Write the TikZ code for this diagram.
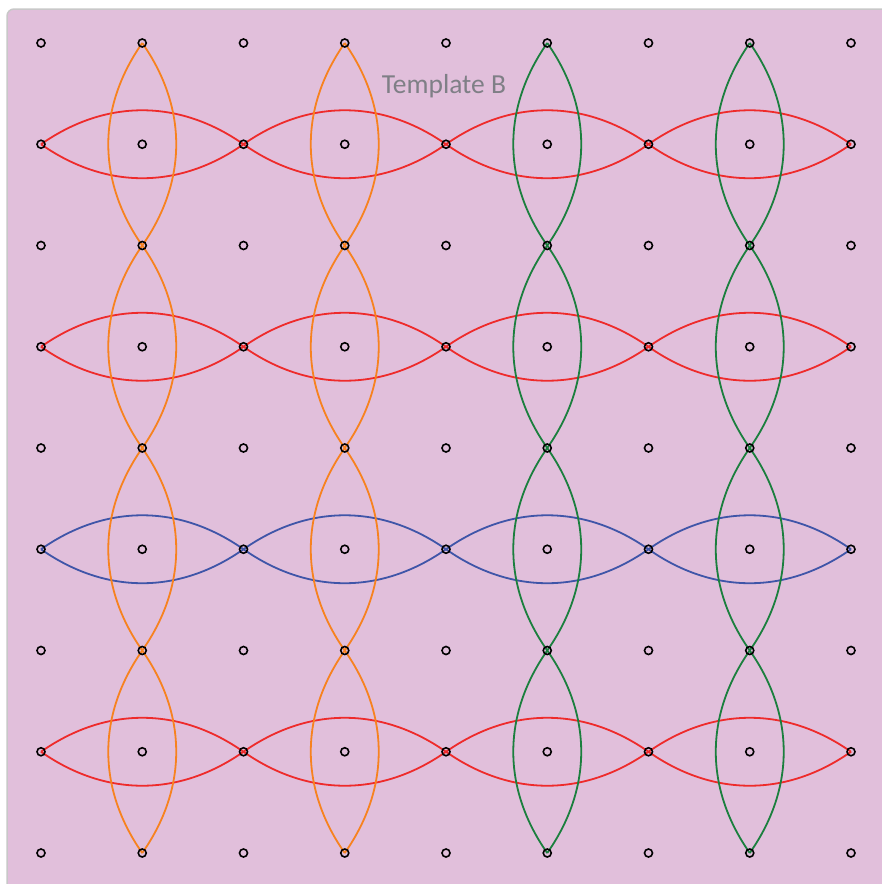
\documentclass[tikz,border=0pt]{standalone}
\usepackage{fontspec}
\setmainfont{Carlito}
\definecolor{bgpink}{HTML}{E1BFDB}
\definecolor{bordergray}{HTML}{C8C8C8}
\definecolor{lensred}{HTML}{EE2B2B}
\definecolor{lensorange}{HTML}{F7821F}
\definecolor{lensgreen}{HTML}{1B7F3E}
\definecolor{lensblue}{HTML}{3F55A8}
\definecolor{titlegray}{HTML}{7F7F86}
\tikzset{
  lens/.style={line width=1.8pt},
  dotmark/.style={draw=black,line width=1.6pt,fill=none},
}
\begin{document}
\begin{tikzpicture}[x=1pt,y=-1pt]
\useasboundingbox (0,0) rectangle (882,884);
\fill[bgpink,draw=bordergray,line width=1.5pt,rounded corners=7pt] (7,9) rectangle (895,897);
% grid coordinates
\foreach \i in {0,...,8}{
  \foreach \j in {0,...,8}{
    \coordinate (g-\i-\j) at ({41+101.25*\i},{43+101.25*\j});
  }
}
% horizontal lenses
\foreach \r/\c in {1/lensred,3/lensred,5/lensblue,7/lensred}{
  \foreach \a/\b in {0/2,2/4,4/6,6/8}{
    \draw[lens,\c] (g-\a-\r) to[bend left=35] (g-\b-\r);
    \draw[lens,\c] (g-\a-\r) to[bend right=35] (g-\b-\r);
  }
}
% vertical lenses
\foreach \k/\c in {1/lensorange,3/lensorange,5/lensgreen,7/lensgreen}{
  \foreach \a/\b in {0/2,2/4,4/6,6/8}{
    \draw[lens,\c] (g-\k-\a) to[bend left=35] (g-\k-\b);
    \draw[lens,\c] (g-\k-\a) to[bend right=35] (g-\k-\b);
  }
}
% dots
\foreach \i in {0,...,8}{
  \foreach \j in {0,...,8}{
    \draw[dotmark] (g-\i-\j) circle (4pt);
  }
}
\node[text=titlegray,font=\fontsize{27.5}{30}\selectfont] (title) at (444,86) {Template B};
\end{tikzpicture}
\end{document}
